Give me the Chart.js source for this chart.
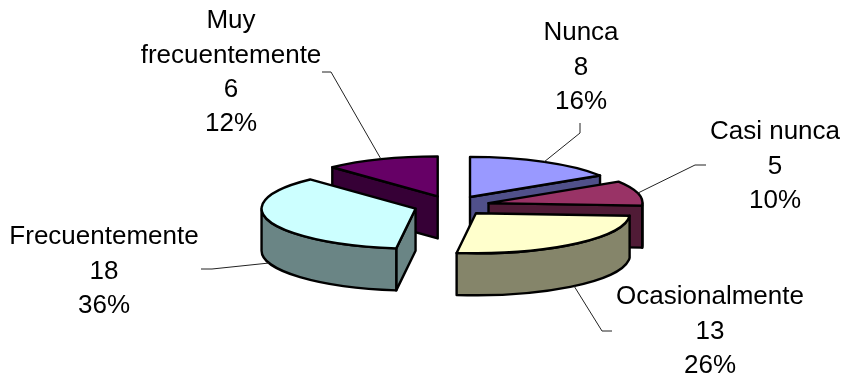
<!DOCTYPE html>
<html>
<head>
<meta charset="utf-8">
<script src="https://cdn.jsdelivr.net/npm/chart.js@4"></script>
<style>
    html, body { margin: 0; padding: 0; background: #fff; }
    canvas { display: block; }
</style>
</head>
<body>
<canvas id="pieChart" width="843" height="377"></canvas>
<script>
const categories = ['Nunca', 'Casi nunca', 'Ocasionalmente', 'Frecuentemente', 'Muy frecuentemente'];
const values = [8, 5, 13, 18, 6];
const topColors = ['#9999ff', '#993366', '#ffffcc', '#ccffff', '#660066'];
const sideColors = ['#50508a', '#501b36', '#85856a', '#6a8585', '#360036'];

// label centre x, first line y, leader elbow and leader end
const labelSpots = [
    { x: 581, y: 33, elbow: [580, 133], end: [580, 123] },
    { x: 775, y: 132, elbow: [695, 165], end: [706, 165] },
    { x: 710, y: 297, elbow: [602, 331], end: [612, 331] },
    { x: 104, y: 237, elbow: [212, 269], end: [201, 269] },
    { x: 231, y: 21, elbow: [331, 72], end: [322, 72], wrap: true }
];

const SQUASH = 0.26;
const DEPTH = 42;
const EXPLODE = 38;
const LINE_GAP = 34.4;
const total = values.reduce((a, b) => a + b, 0);

// Pie drawn tilted: every slice is pushed out along its middle angle and extruded downwards
const tiltedPie = {
    id: 'tiltedPie',
    beforeDatasetsDraw(chart) {
        const ctx = chart.ctx;
        const arcs = chart.getDatasetMeta(0).data;
        const order = [4, 0, 1, 3, 2];

        order.forEach(i => {
            const arc = arcs[i];
            const mid = (arc.startAngle + arc.endAngle) / 2;
            const cx = arc.x + Math.cos(mid) * EXPLODE;
            const cy = arc.y + Math.sin(mid) * EXPLODE * SQUASH;
            const rx = arc.outerRadius;
            const ry = arc.outerRadius * SQUASH;
            const rim = a => [cx + Math.cos(a) * rx, cy + Math.sin(a) * ry];

            ctx.save();
            ctx.lineWidth = 2.4;
            ctx.lineJoin = 'round';
            ctx.strokeStyle = '#000';
            ctx.fillStyle = sideColors[i];

            // cut faces, only the ones that look towards the viewer
            [[arc.startAngle, Math.cos(arc.startAngle) < -0.001], [arc.endAngle, Math.cos(arc.endAngle) > 0.001]].forEach(([a, visible]) => {
                if (!visible) return;
                const p = rim(a);
                ctx.beginPath();
                ctx.moveTo(cx, cy);
                ctx.lineTo(p[0], p[1]);
                ctx.lineTo(p[0], p[1] + DEPTH);
                ctx.lineTo(cx, cy + DEPTH);
                ctx.closePath();
                ctx.fill();
                ctx.stroke();
            });

            // outer wall, front half of the ellipse only
            const from = Math.max(arc.startAngle, 0);
            const to = Math.min(arc.endAngle, Math.PI);
            if (to > from) {
                ctx.beginPath();
                ctx.ellipse(cx, cy, rx, ry, 0, from, to);
                ctx.ellipse(cx, cy + DEPTH, rx, ry, 0, to, from, true);
                ctx.closePath();
                ctx.fill();
                ctx.stroke();
            }

            // top face comes from the library arc, squashed about the pie centre
            ctx.save();
            ctx.translate(cx, cy);
            ctx.scale(1, SQUASH);
            ctx.translate(-arc.x, -arc.y);
            arc.draw(ctx);
            ctx.restore();

            ctx.beginPath();
            ctx.moveTo(cx, cy);
            ctx.ellipse(cx, cy, rx, ry, 0, arc.startAngle, arc.endAngle);
            ctx.closePath();
            ctx.stroke();
            ctx.restore();
        });

        drawLabels(ctx, arcs);
        return false;
    }
};

function drawLabels(ctx, arcs) {
    ctx.save();
    ctx.font = '26px "Liberation Sans", Arial, sans-serif';
    ctx.textAlign = 'center';
    ctx.textBaseline = 'middle';
    ctx.fillStyle = '#000';
    ctx.strokeStyle = '#222';
    ctx.lineWidth = 1;

    arcs.forEach((arc, i) => {
        const spot = labelSpots[i];
        const mid = (arc.startAngle + arc.endAngle) / 2;
        const cx = arc.x + Math.cos(mid) * EXPLODE;
        const cy = arc.y + Math.sin(mid) * EXPLODE * SQUASH;
        const startX = cx + Math.cos(mid) * arc.outerRadius;
        let startY = cy + Math.sin(mid) * arc.outerRadius * SQUASH;
        if (Math.sin(mid) > 0) startY += DEPTH;

        ctx.beginPath();
        ctx.moveTo(startX, startY);
        ctx.lineTo(spot.elbow[0], spot.elbow[1]);
        ctx.lineTo(spot.end[0], spot.end[1]);
        ctx.stroke();

        const lines = spot.wrap ? categories[i].split(' ') : [categories[i]];
        lines.push(String(values[i]));
        lines.push(Math.round(values[i] / total * 100) + '%');
        lines.forEach((line, n) => ctx.fillText(line, spot.x, spot.y + n * LINE_GAP));
    });
    ctx.restore();
}

new Chart(document.getElementById('pieChart').getContext('2d'), {
    type: 'pie',
    data: {
        labels: categories,
        datasets: [{
            data: values,
            backgroundColor: topColors,
            borderWidth: 0,
            radius: 154
        }]
    },
    options: {
        responsive: false,
        animation: false,
        events: [],
        layout: { padding: { left: 60.4, top: 34.2 } },
        plugins: { legend: { display: false }, tooltip: { enabled: false } }
    },
    plugins: [tiltedPie]
});
</script>
</body>
</html>
